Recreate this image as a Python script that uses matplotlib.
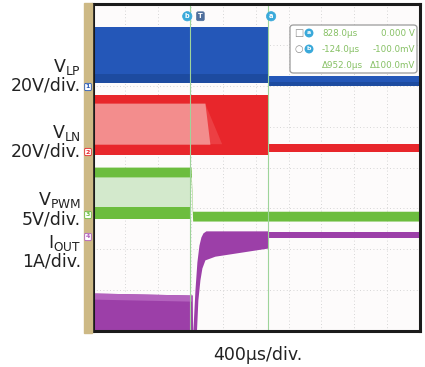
import matplotlib
matplotlib.use("Agg")
import matplotlib.pyplot as plt
from matplotlib.patches import FancyBboxPatch, Polygon, Rectangle
import matplotlib.transforms as mtransforms
import numpy as np

plt.rcParams['font.family'] = ['DejaVu Sans']
plt.rcParams['mathtext.default'] = 'regular'

# ---- scope settings -------------------------------------------------------
time_per_div = 400.0                      # µs/div
t_left = -1320.0                          # µs at left edge of the screen
n_xdiv, n_ydiv = 10, 8

# channel: scale (units/div), ground marker position (div from bottom)
ch_scale = {"VLP": 20.0, "VLN": 20.0, "VPWM": 5.0, "IOUT": 1.0}
ch_offset = {"VLP": 6.0, "VLN": 4.4, "VPWM": 2.85, "IOUT": 2.3}

# cursors (µs)
cursor_a = 828.0
cursor_b = -124.0

# ---- traces (envelopes of the switching waveforms) ------------------------
# V_LP (V)
vlp_t = [-1320, 828, 828, 2680]
vlp_hi = [28.6, 28.6, 5.0, 5.0]
vlp_lo = [1.2, 1.2, 0.0, 0.0]
vlp_dark_hi = [5.7, 5.7, 2.0, 2.0]

# V_LN (V)
vln_t = [-1320, 828, 828, 2680]
vln_hi = [27.4, 27.4, 3.4, 3.4]
vln_lo = [-2.0, -2.0, -0.4, -0.4]
# lighter inner region while the low side is still switching
vln_inner_t = [-1320, 55, 116]
vln_inner_hi = [23.5, 23.5, 3.4]
vln_inner_lo = [3.4, 3.4, 3.4]
vln_fade_end = 266

# V_PWM (V)
vpwm_t = [-1320, -115, -95, 2680]
vpwm_top_hi = [5.8, 5.8, 0.4, 0.4]
vpwm_top_lo = [4.6, 4.6, -0.8, -0.8]
vpwm_mid_t = [-1320, -115]
vpwm_mid_hi = [4.6, 4.6]
vpwm_mid_lo = [0.9, 0.9]
vpwm_bot_hi = [0.9, 0.9]
vpwm_bot_lo = [-0.55, -0.55]

# I_OUT (A)
iout_up_t = [-1320, -100, -95, -67, -43, -18, 6, 31, 67, 828, 828, 2680]
iout_up = [-1.37, -1.42, -2.4, -1.3, -0.61, -0.2, 0.0, 0.1, 0.15, 0.17, 0.12, 0.12]
iout_lo_t = [-1320, -55, -31, -6, 18, 55, 177, 828, 828, 2680]
iout_lo = [-2.6, -2.6, -1.54, -1.05, -0.76, -0.56, -0.47, -0.27, -0.03, -0.03]
iout_light_t = [-1320, -100]
iout_light_hi = [-1.37, -1.42]
iout_light_lo = [-1.52, -1.57]

# ---- measurement readout -------------------------------------------------
meas_rows = [("828.0µs", "0.000 V"),
             ("-124.0µs", "-100.0mV"),
             ("Δ952.0µs", "Δ100.0mV")]

labels = [("V$_{LP}$", "20V/div."), ("V$_{LN}$", "20V/div."),
          ("V$_{PWM}$", "5V/div."), ("I$_{OUT}$", "1A/div.")]
time_label = "400µs/div."

# ---- colours -------------------------------------------------------------
BLUE, BLUE_D = "#2457b8", "#1d4ba0"
RED, PINK, RED_F = "#e8262b", "#f38d8d", "#ec3f43"
GREEN, GREEN_P = "#6cbd3e", "#d3e9cc"
PURP, PURP_L = "#9c3fa8", "#b463be"
TAN = "#cdb985"
CYAN = "#3aa9da"
MEAS = "#86c064"

W, H = 425, 367
fig = plt.figure(figsize=(W / 100, H / 100), dpi=100)


def fx(x):
    return x / W


def fy(y):
    return 1 - y / H


ax = fig.add_axes([fx(92.5), fy(331), 327 / W, 327 / H])
ax.set_facecolor("#fdfbfb")
ax.set_xlim(t_left, t_left + n_xdiv * time_per_div)
ax.set_ylim(0, n_ydiv)
ax.set_xticks([])
ax.set_yticks([])
for s in ax.spines.values():
    s.set_linewidth(2.2)
    s.set_color("#1b1b1b")
    s.set_zorder(10)

# graticule
for k in range(1, n_xdiv):
    ax.axvline(t_left + k * time_per_div, color="#c9c9c9", lw=0.6,
               ls=(0, (1, 3)), zorder=0)
for k in range(1, n_ydiv):
    ax.axhline(k, color="#c9c9c9", lw=0.6, ls=(0, (1, 3)), zorder=0)


def dv(ch, vals):
    return ch_offset[ch] + np.asarray(vals, dtype=float) / ch_scale[ch]


# V_LP
ax.fill_between(vlp_t, dv("VLP", vlp_lo), dv("VLP", vlp_hi), color=BLUE, lw=0, zorder=2)
ax.fill_between(vlp_t, dv("VLP", vlp_lo), dv("VLP", vlp_dark_hi), color=BLUE_D, lw=0, zorder=2)

# V_LN
ax.fill_between(vln_t, dv("VLN", vln_lo), dv("VLN", vln_hi), color=RED, lw=0, zorder=2)
fade = Polygon([(vln_inner_t[1], dv("VLN", [vln_inner_hi[1]])[0]),
                (vln_fade_end, dv("VLN", [vln_inner_lo[2]])[0]),
                (vln_inner_t[1], dv("VLN", [vln_inner_lo[1]])[0])],
               closed=True, color=RED_F, lw=0, zorder=2)
ax.add_patch(fade)
ax.fill_between(vln_inner_t, dv("VLN", vln_inner_lo), dv("VLN", vln_inner_hi),
                color=PINK, lw=0, zorder=2)

# V_PWM
ax.fill_between(vpwm_mid_t, dv("VPWM", vpwm_mid_lo), dv("VPWM", vpwm_mid_hi),
                color=GREEN_P, lw=0, zorder=2)
ax.fill_between(vpwm_mid_t, dv("VPWM", vpwm_bot_lo), dv("VPWM", vpwm_bot_hi),
                color=GREEN, lw=0, zorder=2)
ax.fill_between(vpwm_t, dv("VPWM", vpwm_top_lo), dv("VPWM", vpwm_top_hi),
                color=GREEN, lw=0, zorder=2)

# I_OUT
t_all = np.union1d(iout_up_t, iout_lo_t)
up_i = np.interp(t_all, iout_up_t[:9], iout_up[:9])
lo_i = np.interp(t_all, iout_lo_t[:8], iout_lo[:8])
mask = t_all <= 828
ax.fill_between(t_all[mask], dv("IOUT", lo_i[mask]), dv("IOUT", up_i[mask]),
                color=PURP, lw=0, zorder=2)
ax.fill_between(iout_up_t[-2:], dv("IOUT", iout_lo[-2:]), dv("IOUT", iout_up[-2:]),
                color=PURP, lw=0, zorder=2)
ax.fill_between(iout_light_t, dv("IOUT", iout_light_lo), dv("IOUT", iout_light_hi),
                color=PURP_L, lw=0, zorder=2)

# cursors
for c in (cursor_b, cursor_a):
    ax.axvline(c, color="#9ed49a", lw=0.8, zorder=4)


# cursor / trigger flags at the top of the screen
def flag(t, dx, text, fc, style="circle,pad=0.25"):
    tr = mtransforms.offset_copy(ax.transData, fig=fig, x=dx, y=0, units="dots")
    ax.text(t, 7.7, text, transform=tr, ha="center", va="center", fontsize=4.8,
            color="white", fontweight="bold", zorder=6,
            bbox=dict(boxstyle=style, fc=fc, ec=fc, lw=0.5))


flag(cursor_b, -3, "b", CYAN)
flag(cursor_a, 3, "a", CYAN)
flag(0.0, 0, "T", "#4f6f9c", "round,pad=0.22")

# left tan strip with channel tags
fig.patches.append(Rectangle((fx(84), fy(333)), 8 / W, 330 / H,
                             transform=fig.transFigure, color=TAN, zorder=0))
tags = [(87, "1", "#2457b8"), (152, "2", "#e8262b"),
        (215, "3", "#6cbd3e"), (237, "4", "#b05cbc")]
for y, txt, col in tags:
    fig.text(fx(88), fy(y), txt, ha="center", va="center", fontsize=4.5,
             color=col, zorder=3, fontweight="bold",
             bbox=dict(boxstyle="round,pad=0.18", fc="white", ec=col, lw=0.6))

# measurement readout box
fig.patches.append(FancyBboxPatch((fx(290), fy(73)), 127 / W, 48 / H,
                                  boxstyle="round,pad=0,rounding_size=0.008",
                                  transform=fig.transFigure, fc="white",
                                  ec="#9a9a9a", lw=0.9, zorder=2))
meas_font = dict(family=["Liberation Sans Narrow", "DejaVu Sans"], fontsize=6.3,
                 color=MEAS, va="center", zorder=3)
for i, (tv, vv) in enumerate(meas_rows):
    y = 33 + 16 * i
    fig.text(fx(322), fy(y), tv, ha="left", **meas_font)
    fig.text(fx(415), fy(y), vv, ha="right", **meas_font)
fig.text(fx(299), fy(33), "□", ha="center", va="center", fontsize=7,
         color="#8a8a8a", zorder=3)
fig.text(fx(299), fy(49), "○", ha="center", va="center", fontsize=7,
         color="#8a8a8a", zorder=3)
for y, txt in ((33, "a"), (49, "b")):
    fig.text(fx(309), fy(y), txt, ha="center", va="center", fontsize=4.5,
             color="white", fontweight="bold", zorder=3,
             bbox=dict(boxstyle="circle,pad=0.2", fc=CYAN, ec=CYAN))

# channel labels
label_base = [(72, 91), (138, 156), (205, 224), (248, 267)]
for (name, scale), (y1, y2) in zip(labels, label_base):
    fig.text(fx(81), fy(y1), name, ha="right", va="baseline", fontsize=12.5,
             color="#222222")
    fig.text(fx(81), fy(y2), scale, ha="right", va="baseline", fontsize=12.5,
             color="#222222")

fig.text(fx(258), fy(360), time_label, ha="center", va="baseline",
         fontsize=12.5, color="#222222")

fig.savefig("out.png", dpi=100)
